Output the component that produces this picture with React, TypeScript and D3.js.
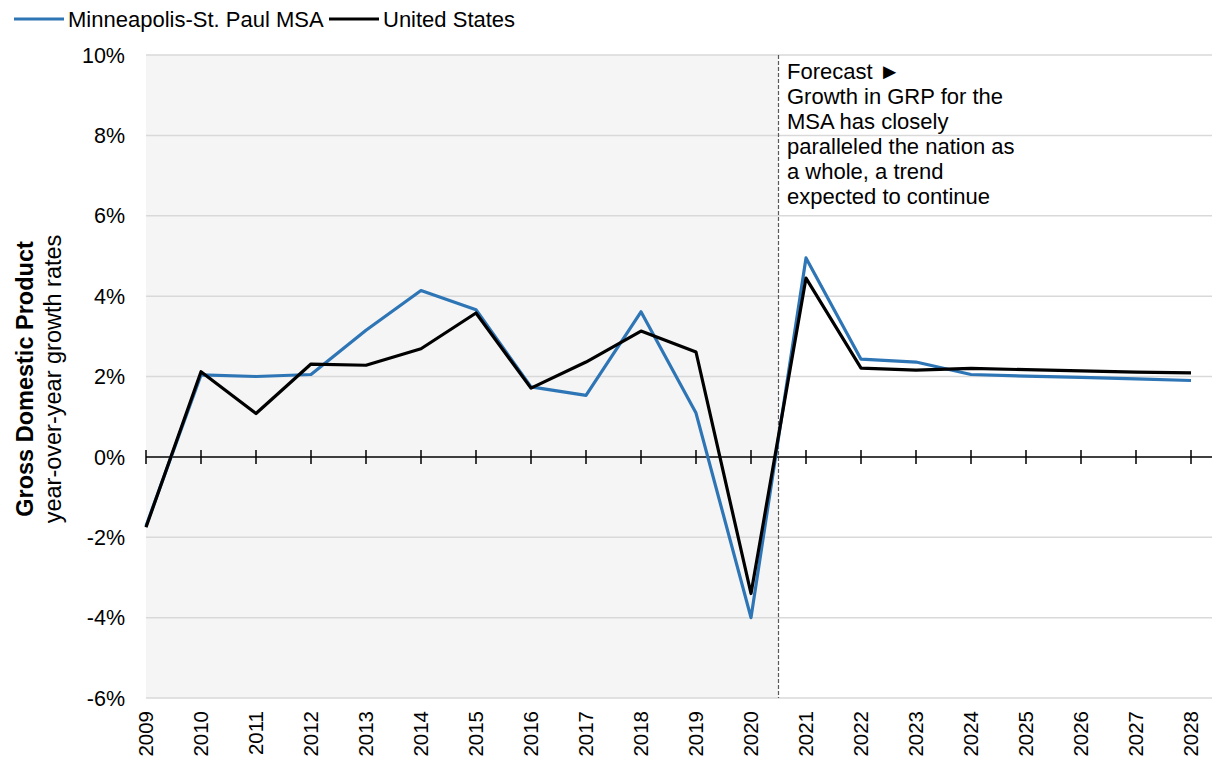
import React, { useEffect, useRef } from 'react';
import * as d3 from 'd3';

// Year-over-year GDP growth, percent
const years = [2009, 2010, 2011, 2012, 2013, 2014, 2015, 2016, 2017, 2018, 2019, 2020, 2021, 2022, 2023, 2024, 2025, 2026, 2027, 2028];
const msaValues = [-1.72, 2.04, 2.0, 2.05, 3.15, 4.14, 3.66, 1.74, 1.53, 3.61, 1.09, -4.0, 4.95, 2.43, 2.36, 2.05, 2.01, 1.98, 1.94, 1.9];
const usValues = [-1.75, 2.12, 1.08, 2.31, 2.28, 2.69, 3.58, 1.71, 2.36, 3.13, 2.61, -3.4, 4.45, 2.21, 2.16, 2.2, 2.17, 2.14, 2.11, 2.09];
const yTicks = [-6, -4, -2, 0, 2, 4, 6, 8, 10];
const forecastStart = 2020.5;
const noteLines = [
  'Forecast \u25BA',
  'Growth in GRP for the',
  'MSA has closely',
  'paralleled the nation as',
  'a whole, a trend',
  'expected to continue',
];
const seriesNames = ['Minneapolis-St. Paul MSA', 'United States'];
const seriesColors = ['#2E75B6', '#000000'];

const FONT = 'Arial, "Liberation Sans", sans-serif';

export default function App() {
  const svgRef = useRef<SVGSVGElement>(null);

  useEffect(() => {
    const width = 1212;
    const height = 761;
    const plot = { left: 146, right: 1212, top: 55, bottom: 698 };

    const svg = d3.select(svgRef.current);
    svg.selectAll('*').remove();
    svg.attr('width', width).attr('height', height);

    const x = d3.scaleLinear().domain([2009, 2028]).range([plot.left, 1191]);
    const y = d3.scaleLinear().domain([-6, 10]).range([plot.bottom, plot.top]);

    // Historical shading
    svg.append('rect')
      .attr('x', plot.left).attr('y', plot.top)
      .attr('width', x(forecastStart) - plot.left).attr('height', plot.bottom - plot.top)
      .attr('fill', '#f5f5f5');

    // Grid
    svg.append('g')
      .selectAll('line')
      .data(yTicks.filter(d => d !== 0))
      .join('line')
      .attr('x1', plot.left).attr('x2', plot.right)
      .attr('y1', d => y(d)).attr('y2', d => y(d))
      .attr('stroke', '#d9d9d9').attr('stroke-width', 1.5);

    // Y labels
    svg.append('g')
      .selectAll('text')
      .data(yTicks)
      .join('text')
      .attr('x', 125).attr('y', d => y(d))
      .attr('dy', '0.36em')
      .attr('text-anchor', 'end')
      .attr('font-family', FONT).attr('font-size', 21.5).attr('fill', '#000')
      .text(d => `${d}%`);

    // Forecast divider
    svg.append('line')
      .attr('x1', x(forecastStart)).attr('x2', x(forecastStart))
      .attr('y1', plot.top).attr('y2', plot.bottom)
      .attr('stroke', '#595959').attr('stroke-width', 1.2).attr('stroke-dasharray', '4 2');

    // Zero axis with crossing ticks
    const axis = svg.append('g');
    axis.append('line')
      .attr('x1', plot.left).attr('x2', plot.right)
      .attr('y1', y(0)).attr('y2', y(0))
      .attr('stroke', '#000').attr('stroke-width', 1.5);
    axis.selectAll('.tick')
      .data(years)
      .join('line')
      .attr('class', 'tick')
      .attr('x1', d => x(d)).attr('x2', d => x(d))
      .attr('y1', y(0) - 7).attr('y2', y(0) + 7)
      .attr('stroke', '#000').attr('stroke-width', 1.5);

    // Year labels
    svg.append('g')
      .selectAll('text')
      .data(years)
      .join('text')
      .attr('transform', d => `translate(${x(d)},${plot.bottom + 13}) rotate(-90)`)
      .attr('dy', '0.36em')
      .attr('text-anchor', 'end')
      .attr('font-family', FONT).attr('font-size', 20.5).attr('fill', '#000')
      .text(d => d);

    // Lines
    const line = d3.line<number>().x((d, i) => x(years[i])).y(d => y(d));
    [msaValues, usValues].forEach((vals, i) => {
      svg.append('path')
        .datum(vals)
        .attr('fill', 'none')
        .attr('stroke', seriesColors[i])
        .attr('stroke-width', 3.2)
        .attr('stroke-linejoin', 'round')
        .attr('d', line);
    });

    // Annotation
    const note = svg.append('text')
      .attr('font-family', FONT).attr('font-size', 22).attr('fill', '#000');
    note.selectAll('tspan')
      .data(noteLines)
      .join('tspan')
      .attr('x', 787)
      .attr('y', (d, i) => 79 + i * 25)
      .text(d => d);

    // Axis title
    const title = svg.append('text')
      .attr('transform', `translate(0,379) rotate(-90)`)
      .attr('text-anchor', 'middle')
      .attr('font-family', FONT).attr('font-size', 23.5).attr('fill', '#000');
    title.append('tspan').attr('x', 0).attr('y', 33).attr('font-weight', 'bold').text('Gross Domestic Product');
    title.append('tspan').attr('x', 0).attr('y', 61).text('year-over-year growth rates');

    // Legend
    const legendX = [14, 329];
    seriesNames.forEach((name, i) => {
      const g = svg.append('g').attr('transform', `translate(${legendX[i]},19)`);
      g.append('line').attr('x1', 0).attr('x2', 50).attr('y1', 0).attr('y2', 0)
        .attr('stroke', seriesColors[i]).attr('stroke-width', 3.2);
      g.append('text').attr('x', 54).attr('dy', '0.36em')
        .attr('font-family', FONT).attr('font-size', 22).attr('fill', '#000')
        .text(name);
    });
  }, []);

  return (
    <div style={{ position: 'fixed', left: 0, top: 0, background: '#fff' }}>
      <svg ref={svgRef} style={{ display: 'block' }} />
    </div>
  );
}
